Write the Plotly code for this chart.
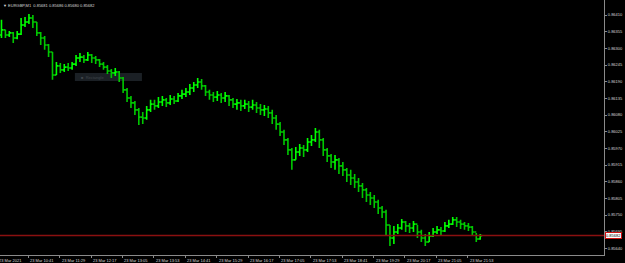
import pandas as pd
import plotly.graph_objects as go

header_text = "EURGBP,M1  0.85681 0.85686 0.85680 0.85682"
start_time = "2021-03-23 10:00"
bar_step = "6min"
first_open = 0.86344

highs = [
    0.86394, 0.86361, 0.86357, 0.86354, 0.86357, 0.86400, 0.86403, 0.86413, 0.86410, 0.86387,
    0.86354, 0.86341, 0.86314, 0.86288, 0.86255, 0.86252, 0.86248, 0.86252, 0.86255, 0.86278,
    0.86285, 0.86278, 0.86288, 0.86281, 0.86275, 0.86265, 0.86255, 0.86245, 0.86232, 0.86235,
    0.86225, 0.86205, 0.86169, 0.86143, 0.86126, 0.86103, 0.86090, 0.86110, 0.86130, 0.86130,
    0.86139, 0.86143, 0.86136, 0.86146, 0.86143, 0.86153, 0.86163, 0.86169, 0.86182, 0.86189,
    0.86202, 0.86199, 0.86179, 0.86163, 0.86156, 0.86159, 0.86153, 0.86156, 0.86146, 0.86136,
    0.86133, 0.86130, 0.86130, 0.86126, 0.86130, 0.86123, 0.86116, 0.86113, 0.86110, 0.86097,
    0.86080, 0.86057, 0.86031, 0.86004, 0.85971, 0.85974, 0.85984, 0.85981, 0.86004, 0.86014,
    0.86037, 0.86031, 0.86004, 0.85971, 0.85951, 0.85948, 0.85938, 0.85925, 0.85905, 0.85899,
    0.85885, 0.85872, 0.85856, 0.85839, 0.85826, 0.85816, 0.85800, 0.85780, 0.85767, 0.85717,
    0.85714, 0.85720, 0.85737, 0.85730, 0.85724, 0.85730, 0.85717, 0.85701, 0.85687, 0.85694,
    0.85707, 0.85714, 0.85710, 0.85727, 0.85734, 0.85743, 0.85743, 0.85734, 0.85727, 0.85724,
    0.85714, 0.85691, 0.85687,
]
lows = [
    0.86334, 0.86334, 0.86337, 0.86318, 0.86330, 0.86344, 0.86370, 0.86380, 0.86367, 0.86341,
    0.86311, 0.86295, 0.86271, 0.86196, 0.86212, 0.86219, 0.86222, 0.86225, 0.86229, 0.86242,
    0.86255, 0.86252, 0.86258, 0.86252, 0.86248, 0.86238, 0.86229, 0.86215, 0.86202, 0.86209,
    0.86189, 0.86153, 0.86123, 0.86103, 0.86080, 0.86047, 0.86050, 0.86064, 0.86090, 0.86097,
    0.86103, 0.86110, 0.86106, 0.86113, 0.86116, 0.86123, 0.86133, 0.86139, 0.86146, 0.86156,
    0.86169, 0.86163, 0.86143, 0.86130, 0.86123, 0.86126, 0.86120, 0.86123, 0.86110, 0.86103,
    0.86097, 0.86093, 0.86100, 0.86090, 0.86097, 0.86087, 0.86080, 0.86077, 0.86070, 0.86050,
    0.86031, 0.86011, 0.85981, 0.85948, 0.85899, 0.85932, 0.85945, 0.85941, 0.85958, 0.85978,
    0.85991, 0.85971, 0.85945, 0.85925, 0.85905, 0.85899, 0.85885, 0.85879, 0.85859, 0.85849,
    0.85839, 0.85826, 0.85806, 0.85793, 0.85783, 0.85773, 0.85753, 0.85740, 0.85684, 0.85648,
    0.85654, 0.85687, 0.85701, 0.85694, 0.85691, 0.85694, 0.85674, 0.85661, 0.85648, 0.85661,
    0.85677, 0.85687, 0.85684, 0.85694, 0.85707, 0.85717, 0.85710, 0.85704, 0.85701, 0.85697,
    0.85681, 0.85661, 0.85668,
]
closes = [
    0.86361, 0.86344, 0.86351, 0.86334, 0.86347, 0.86377, 0.86387, 0.86400, 0.86387, 0.86351,
    0.86334, 0.86311, 0.86288, 0.86212, 0.86242, 0.86229, 0.86238, 0.86235, 0.86248, 0.86268,
    0.86271, 0.86262, 0.86278, 0.86268, 0.86262, 0.86248, 0.86238, 0.86225, 0.86219, 0.86222,
    0.86202, 0.86163, 0.86136, 0.86120, 0.86097, 0.86073, 0.86070, 0.86097, 0.86116, 0.86110,
    0.86123, 0.86130, 0.86120, 0.86133, 0.86126, 0.86143, 0.86149, 0.86156, 0.86169, 0.86179,
    0.86189, 0.86176, 0.86156, 0.86146, 0.86139, 0.86146, 0.86136, 0.86143, 0.86130, 0.86116,
    0.86120, 0.86110, 0.86116, 0.86106, 0.86113, 0.86103, 0.86097, 0.86100, 0.86087, 0.86070,
    0.86050, 0.86024, 0.85998, 0.85965, 0.85932, 0.85958, 0.85971, 0.85965, 0.85991, 0.85998,
    0.86024, 0.85998, 0.85965, 0.85945, 0.85925, 0.85932, 0.85912, 0.85899, 0.85882, 0.85872,
    0.85859, 0.85846, 0.85833, 0.85816, 0.85806, 0.85793, 0.85773, 0.85760, 0.85717, 0.85674,
    0.85694, 0.85707, 0.85727, 0.85714, 0.85707, 0.85720, 0.85694, 0.85674, 0.85661, 0.85681,
    0.85694, 0.85701, 0.85697, 0.85714, 0.85720, 0.85734, 0.85727, 0.85720, 0.85714, 0.85710,
    0.85694, 0.85671, 0.85682,
]
opens = [first_open] + closes[:-1]
times = pd.date_range(start_time, periods=len(closes), freq=bar_step)

tick_times = [
    "2021-03-23 10:41", "2021-03-23 11:29", "2021-03-23 12:17", "2021-03-23 13:05",
    "2021-03-23 13:53", "2021-03-23 14:41", "2021-03-23 15:29", "2021-03-23 16:17",
    "2021-03-23 17:05", "2021-03-23 17:53", "2021-03-23 18:41", "2021-03-23 19:29",
    "2021-03-23 20:17", "2021-03-23 21:05", "2021-03-23 21:53",
]
tick_labels = [
    "23 Mar 10:41", "23 Mar 11:29", "23 Mar 12:17", "23 Mar 13:05",
    "23 Mar 13:53", "23 Mar 14:41", "23 Mar 15:29", "23 Mar 16:17",
    "23 Mar 17:05", "23 Mar 17:53", "23 Mar 18:41", "23 Mar 19:29",
    "23 Mar 20:17", "23 Mar 21:05", "23 Mar 21:53",
]
first_label = "23 Mar 2021"
y_ticks = [0.86410, 0.86355, 0.86300, 0.86245, 0.86190, 0.86135, 0.86080, 0.86025,
           0.85970, 0.85915, 0.85860, 0.85805, 0.85750, 0.85695, 0.85640]
y_labels = ["0.86410", "0.86355", "0.86300", "0.86245", "0.86190", "0.86135", "0.86080",
            "0.86025", "0.85970", "0.85915", "0.85860", "0.85805", "0.85750", "0.85695",
            "0.85640"]
last_price = 0.85682
x_range = ["2021-03-23 09:57:44", "2021-03-24 01:21:18"]
y_range = [0.85618, 0.864595]

FONT = "Liberation Sans"
AXIS_COLOR = "#8a8a8a"
TEXT_COLOR = "#d8d8d8"

fig = go.Figure()
fig.add_trace(go.Ohlc(
    x=times, open=opens, high=highs, low=lows, close=closes,
    increasing=dict(line=dict(color="#00ff00", width=1.6)),
    decreasing=dict(line=dict(color="#00c800", width=1.6)),
    tickwidth=0.5, showlegend=False, hoverinfo="skip",
))

# current price line
fig.add_hline(y=last_price, line=dict(color="#8a1010", width=1.5), layer="above")

# rectangle object label box
fig.add_shape(type="rect", xref="paper", yref="paper", x0=0.124, x1=0.235, y0=0.682, y1=0.714,
              fillcolor="#1b2025", line=dict(width=0), layer="below")
fig.add_annotation(xref="paper", yref="paper", x=0.13, y=0.698, text="■  Rectangle",
                   showarrow=False, xanchor="left", yanchor="middle",
                   font=dict(family=FONT, size=4, color="#40464c"))

annotations = []
annotations.append(dict(xref="paper", yref="paper", x=0.002, y=1.0, yshift=-1,
                        text="▼ " + header_text, showarrow=False, xanchor="left", yanchor="top",
                        font=dict(family=FONT, size=4, color=TEXT_COLOR)))
for t, lab in zip(tick_times, tick_labels):
    annotations.append(dict(xref="x", yref="paper", x=t, y=0, yshift=-1, text=lab,
                            showarrow=False, xanchor="left", yanchor="top",
                            font=dict(family=FONT, size=4, color=TEXT_COLOR)))
annotations.append(dict(xref="paper", yref="paper", x=0, y=0, yshift=-1, xshift=-3,
                        text=first_label, showarrow=False, xanchor="left", yanchor="top",
                        font=dict(family=FONT, size=4, color=TEXT_COLOR)))
annotations.append(dict(xref="paper", yref="y", x=1, y=last_price, xshift=1,
                        text=f"{last_price:.5f}", showarrow=False, xanchor="left",
                        yanchor="middle", bgcolor="#ffffff", bordercolor="#d01010",
                        borderwidth=1, borderpad=0,
                        font=dict(family=FONT, size=4, color="#000000")))
for a in annotations:
    fig.add_annotation(**a)

fig.update_layout(
    width=625, height=263,
    margin=dict(l=0, r=21, t=0, b=8, pad=0),
    paper_bgcolor="#000000", plot_bgcolor="#000000",
    showlegend=False,
    xaxis=dict(range=x_range, type="date", rangeslider=dict(visible=False),
               showgrid=False, zeroline=False, showline=True, linecolor=AXIS_COLOR,
               linewidth=1, tickvals=tick_times, ticktext=[""] * len(tick_times),
               ticks="outside", ticklen=2, tickcolor=AXIS_COLOR, tickwidth=1,
               fixedrange=True),
    yaxis=dict(range=y_range, side="right", showgrid=False, zeroline=False,
               showline=True, linecolor=AXIS_COLOR, linewidth=1,
               tickvals=y_ticks, ticktext=y_labels, ticks="outside", ticklen=2,
               tickcolor=AXIS_COLOR, tickwidth=1,
               tickfont=dict(family=FONT, size=4, color=TEXT_COLOR),
               fixedrange=True),
)

fig.write_html("out.html")
